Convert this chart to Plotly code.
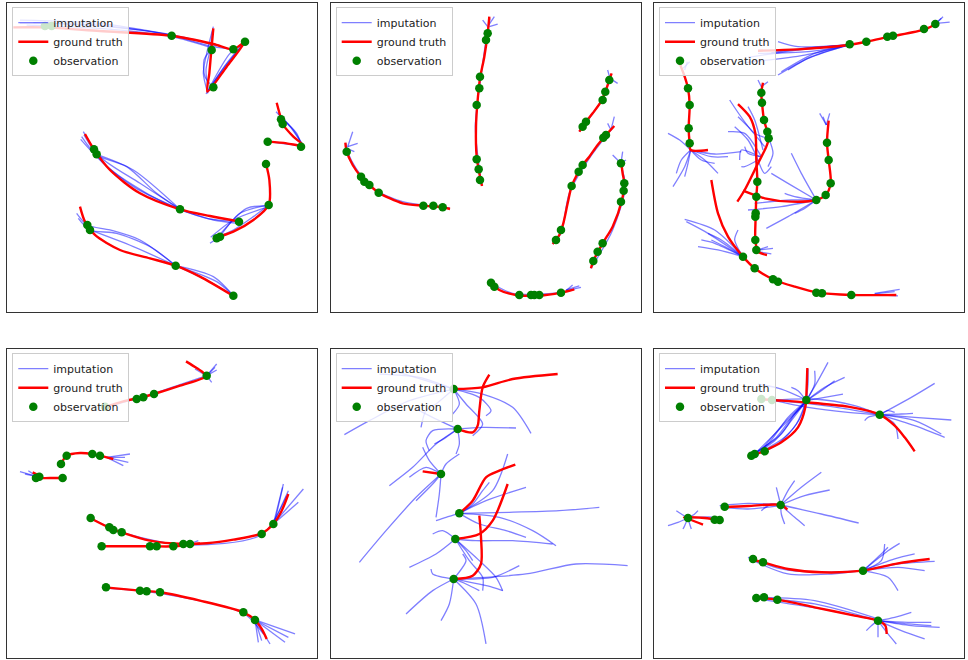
import plotly.graph_objects as go

# ---------------- panel 1 ----------------
P1_TRUTH = [
    [(40, 82), (135, 82), (300, 93), (515, 107), (640, 132), (700, 148), (735, 125), (680, 200), (622, 275), (628, 220), (634, 150), (640, 85)],
    [(830, 308), (840, 345), (850, 375), (880, 410), (910, 437), (860, 430), (805, 425)],
    [(255, 402), (280, 445), (330, 510), (420, 580), (540, 628), (630, 648), (720, 665)],
    [(798, 492), (808, 540), (806, 615), (760, 660), (700, 695), (640, 715)],
    [(240, 620), (255, 665), (285, 705), (360, 750), (450, 775), (527, 797), (600, 830), (700, 888)],
]
P1_OBS = [(135, 78), (155, 78), (515, 107), (635, 150), (700, 148), (735, 125), (640, 262),
          (843, 358), (848, 372), (903, 440), (803, 425), (282, 448), (290, 463), (540, 628),
          (717, 665), (798, 492), (806, 615), (660, 710), (650, 715), (262, 675), (270, 690),
          (527, 797), (700, 887)]
P1_IMPUTE = [
    [(60, 70), (300, 75), (515, 107), (640, 140), (700, 148)],
    [(60, 60), (300, 70), (515, 105)],
    [(80, 75), (300, 85), (515, 110), (640, 145)],
    [(100, 68), (320, 80), (515, 104), (650, 138)],
    [(735, 125), (700, 170), (640, 250), (622, 280)],
    [(730, 130), (690, 160), (630, 260)],
    [(740, 120), (680, 190), (618, 282)],
    [(735, 128), (670, 205), (625, 270)],
    [(640, 262), (615, 230), (612, 180), (632, 150)],
    [(622, 275), (610, 220), (620, 160), (640, 80)],
    [(625, 270), (618, 210), (630, 150), (638, 90)],
    [(828, 335), (870, 380), (905, 430)],
    [(835, 340), (880, 390), (908, 435)],
    [(840, 350), (890, 400), (905, 440)],
    [(805, 425), (860, 432), (905, 437)],
    [(250, 395), (300, 470), (420, 550), (540, 628)],
    [(245, 410), (290, 465), (380, 500), (470, 580), (540, 628)],
    [(290, 463), (400, 510), (540, 628)],
    [(242, 418), (300, 480), (400, 560), (540, 630)],
    [(252, 405), (310, 490), (440, 580), (540, 628)],
    [(540, 628), (620, 655), (720, 665)],
    [(540, 630), (640, 660), (715, 670)],
    [(806, 615), (720, 640), (660, 710)],
    [(806, 618), (740, 625), (650, 715)],
    [(806, 615), (760, 650), (700, 690), (640, 715)],
    [(806, 620), (700, 660), (632, 712)],
    [(660, 710), (630, 730)],
    [(230, 640), (262, 675), (330, 690), (420, 720), (527, 797)],
    [(235, 655), (270, 690), (350, 700), (450, 740), (527, 797)],
    [(270, 690), (400, 740), (527, 797)],
    [(527, 797), (640, 830), (700, 887)],
    [(527, 797), (620, 840), (700, 887)],
    [(527, 797), (650, 845), (700, 887)],
]

# ---------------- panel 2 ----------------
P2_TRUTH = [
    [(58, 428), (62, 455), (80, 495), (105, 530), (130, 555), (158, 578), (230, 610), (292, 617), (350, 622), (372, 627)],
    [(490, 50), (485, 100), (475, 170), (462, 235), (455, 300), (450, 380), (452, 470), (460, 520), (468, 558)],
    [(857, 220), (850, 240), (838, 275), (825, 305), (800, 340), (780, 365), (760, 395)],
    [(865, 378), (840, 405), (815, 435), (790, 470), (770, 495), (750, 530), (737, 558), (725, 610), (712, 670), (700, 705), (680, 732)],
    [(885, 480), (890, 520), (895, 550), (888, 600), (860, 680), (830, 730), (802, 783), (795, 805)],
    [(495, 848), (520, 870), (570, 885), (640, 887), (705, 878), (745, 868)],
]
P2_OBS = [(62, 455), (105, 530), (115, 545), (130, 555), (158, 578), (292, 617), (322, 617), (350, 622),
          (485, 100), (480, 120), (462, 230), (460, 265), (452, 315), (452, 478), (458, 508), (462, 540),
          (850, 240), (838, 275), (830, 300), (780, 365), (770, 380),
          (840, 405), (832, 413), (770, 495), (758, 515), (737, 558), (705, 690), (690, 720),
          (885, 490), (895, 550), (893, 572), (885, 605), (830, 730), (815, 755), (802, 783),
          (495, 848), (505, 860), (580, 885), (615, 885), (625, 885), (640, 885), (705, 878)]
P2_IMPUTE = [
    [(60, 430), (66, 458), (90, 505), (140, 565), (230, 605), (372, 624)],
    [(492, 55), (480, 120), (465, 230), (448, 380), (468, 558)],
    [(855, 225), (830, 295), (760, 395)],
    [(862, 382), (790, 475), (730, 580), (705, 700), (680, 732)],
    [(882, 485), (898, 560), (860, 690), (795, 805)],
    [(497, 850), (560, 880), (700, 878), (745, 868)],
    [(490, 80), (515, 72)], [(485, 80), (470, 60)], [(488, 75), (505, 50)],
    [(65, 440), (80, 395)], [(65, 440), (95, 430)], [(62, 445), (85, 455)],
    [(852, 235), (845, 210)], [(852, 235), (875, 250)],
    [(855, 390), (865, 350)], [(855, 390), (845, 370)],
    [(885, 490), (860, 465)], [(885, 490), (890, 455)], [(885, 490), (900, 480)],
    [(720, 870), (760, 858)], [(720, 872), (740, 855)], [(720, 872), (765, 862)],
]

# ---------------- panel 3 ----------------
P3_TRUTH = [
    [(330, 152), (450, 148), (600, 135), (655, 125), (725, 110), (830, 88), (870, 68)],
    [(95, 190), (110, 230), (120, 265), (125, 315), (122, 385), (125, 430), (128, 450), (180, 450)],
    [(345, 248), (340, 278), (342, 308), (348, 360), (358, 395), (362, 415), (355, 440), (330, 490), (290, 570), (268, 605)],
    [(270, 312), (305, 350), (322, 400), (325, 480), (328, 545), (325, 590), (323, 650), (322, 720), (330, 755), (357, 765)],
    [(542, 362), (537, 428), (542, 480), (548, 550), (533, 585), (505, 600), (430, 605), (350, 595), (285, 572)],
    [(190, 540), (210, 640), (240, 710), (285, 770), (320, 805), (380, 840), (440, 860), (510, 878), (610, 885), (745, 885)],
]
P3_OBS = [(605, 133), (655, 125), (718, 110), (735, 107), (828, 87), (862, 72),
          (120, 265), (125, 315), (122, 385), (125, 430),
          (340, 278), (342, 308), (348, 360), (358, 395), (362, 415),
          (328, 545), (325, 590), (323, 640), (322, 650), (322, 720), (325, 750),
          (537, 428), (542, 480), (548, 550), (533, 585), (505, 600),
          (285, 770), (320, 805), (375, 838), (390, 845), (505, 878), (522, 880), (610, 885)]
P3_IMPUTE = [
    [(600, 135), (450, 140), (390, 125)], [(600, 135), (450, 150), (300, 172)],
    [(600, 135), (470, 165), (290, 188)], [(600, 135), (480, 175), (390, 225)],
    [(600, 135), (490, 170), (420, 210)], [(600, 135), (470, 145), (370, 158)],
    [(600, 135), (500, 160), (400, 215)], [(600, 135), (480, 155), (330, 160)],
    [(865, 70), (905, 66)], [(865, 70), (885, 50)], [(860, 72), (880, 55)],
    [(128, 450), (95, 420), (60, 400)], [(128, 450), (110, 500), (75, 560)],
    [(128, 450), (120, 490), (110, 530)], [(128, 450), (170, 480), (210, 520)],
    [(128, 450), (200, 462), (280, 455)], [(128, 450), (190, 470), (240, 470)],
    [(128, 450), (160, 480), (200, 490)], [(128, 450), (100, 480), (85, 520)],
    [(100, 200), (95, 185)], [(105, 205), (125, 185)], [(110, 210), (118, 185)],
    [(362, 415), (320, 400), (245, 300)], [(340, 470), (290, 400), (240, 395)],
    [(330, 480), (300, 420), (260, 380)], [(330, 480), (350, 520), (370, 500)],
    [(340, 470), (300, 460), (290, 440)], [(330, 480), (290, 500), (280, 500)],
    [(362, 415), (375, 460), (360, 500)], [(350, 440), (300, 380), (270, 350)],
    [(335, 470), (280, 450), (275, 480)], [(345, 450), (320, 360), (300, 320)],
    [(340, 260), (330, 240)], [(340, 260), (360, 245)],
    [(330, 750), (375, 745)], [(330, 755), (370, 762)], [(330, 750), (360, 740)],
    [(505, 600), (400, 620), (300, 630)], [(505, 600), (420, 650), (355, 685)],
    [(505, 600), (420, 550), (370, 520)], [(505, 600), (460, 520), (430, 460)],
    [(505, 600), (440, 590), (410, 580)], [(505, 600), (470, 625), (440, 640)],
    [(505, 600), (430, 600), (320, 610)],
    [(535, 375), (515, 340)], [(535, 375), (545, 340)], [(535, 375), (525, 350)],
    [(285, 770), (200, 690), (110, 658)], [(285, 770), (180, 700), (115, 665)],
    [(285, 770), (210, 750), (150, 740)], [(285, 770), (220, 720), (180, 700)],
    [(285, 770), (260, 720), (270, 690)], [(285, 770), (200, 730), (160, 720)],
    [(285, 770), (230, 740), (190, 720)],
    [(680, 880), (755, 868)], [(680, 882), (740, 875)], [(690, 885), (750, 888)],
]

# ---------------- panel 4 ----------------
P4_TRUTH = [
    [(558, 52), (590, 72), (612, 88), (618, 97), (540, 125), (462, 150), (425, 160), (370, 172), (310, 190)],
    [(190, 402), (150, 402), (110, 402), (120, 397), (98, 385)],
    [(183, 360), (200, 335), (240, 327), (277, 330), (300, 335), (340, 345)],
    [(270, 522), (330, 552), (365, 565), (450, 590), (550, 600), (620, 598), (700, 587), (785, 568), (820, 540), (845, 500), (865, 450)],
    [(305, 607), (450, 607), (520, 607), (560, 603), (600, 598)],
    [(315, 730), (420, 740), (480, 745), (600, 770), (730, 805), (765, 828), (785, 855), (800, 885)],
]
P4_OBS = [(620, 95), (462, 150), (430, 160), (410, 165), (315, 188),
          (118, 398), (108, 402), (188, 402), (183, 360), (200, 335), (277, 330), (300, 335),
          (272, 522), (328, 550), (340, 558), (365, 565), (550, 600), (570, 600), (785, 570), (820, 540),
          (305, 607), (450, 607), (470, 607), (520, 607),
          (318, 730), (420, 740), (440, 742), (480, 745), (730, 805), (765, 828)]
P4_IMPUTE = [
    [(620, 95), (540, 122), (462, 148), (310, 192)],
    [(272, 522), (360, 563), (550, 603), (785, 572), (860, 455)],
    [(318, 732), (480, 748), (730, 808), (790, 870)],
    [(620, 95), (650, 60)], [(620, 95), (650, 78)], [(620, 95), (635, 115)],
    [(620, 95), (645, 70)], [(610, 90), (585, 75)],
    [(112, 398), (60, 383)], [(112, 398), (75, 390)], [(112, 398), (85, 380)],
    [(320, 340), (390, 330)], [(320, 340), (385, 355)], [(320, 340), (370, 365)], [(320, 340), (375, 340)],
    [(820, 540), (850, 420)], [(820, 540), (910, 435)], [(820, 540), (895, 475)],
    [(820, 540), (865, 440)], [(825, 530), (848, 430)],
    [(560, 603), (595, 590)],
    [(765, 828), (775, 895)], [(765, 828), (810, 900)], [(765, 828), (855, 895)],
    [(765, 828), (885, 870)], [(765, 828), (865, 880)], [(765, 828), (785, 890)],
]

# ---------------- panel 5 ----------------
P5_TRUTH = [
    [(383, 135), (470, 130), (560, 105), (695, 90)],
    [(395, 255), (440, 265), (455, 245), (460, 200), (470, 130), (490, 92)],
    [(290, 382), (345, 390)],
    [(400, 508), (440, 470), (480, 400), (520, 380), (568, 362)],
    [(388, 585), (460, 570), (500, 530), (545, 420)],
    [(383, 705), (440, 695), (465, 660), (465, 580), (460, 515)],
]
P5_OBS = [(383, 135), (395, 255), (345, 390), (400, 508), (388, 585), (383, 705)]
P5_IMPUTE = [
    [(383, 135), (250, 170), (130, 230), (55, 272)],
    [(383, 135), (300, 110), (200, 80)],
    [(383, 135), (470, 150), (560, 190), (615, 268)],
    [(383, 135), (330, 180), (300, 200), (285, 250)],
    [(383, 135), (400, 180), (380, 210)],
    [(383, 135), (460, 160), (495, 200), (480, 215)],
    [(383, 135), (420, 180), (470, 240), (440, 275)],
    [(383, 135), (280, 100), (160, 90)],
    [(395, 255), (330, 300), (260, 370), (190, 425)],
    [(395, 255), (340, 230), (290, 205), (270, 195)],
    [(395, 255), (470, 250), (570, 252)],
    [(395, 255), (360, 280), (325, 300)],
    [(395, 255), (400, 300), (390, 330)],
    [(395, 255), (320, 260), (300, 290), (310, 320)],
    [(345, 390), (270, 460), (180, 560), (100, 655)],
    [(345, 390), (300, 370), (250, 400)],
    [(345, 390), (310, 350), (290, 310)],
    [(345, 390), (360, 360), (400, 330)],
    [(345, 390), (340, 450), (330, 520)],
    [(345, 390), (320, 420), (270, 470)],
    [(400, 508), (550, 505), (700, 500), (820, 490)],
    [(400, 508), (520, 520), (620, 560), (690, 605)],
    [(400, 508), (500, 440), (545, 330)],
    [(400, 508), (480, 470), (600, 430)],
    [(400, 508), (360, 520), (330, 530)],
    [(400, 508), (460, 540), (540, 560), (600, 580)],
    [(400, 508), (440, 480), (470, 440), (490, 415)],
    [(388, 585), (330, 630), (250, 670)],
    [(388, 585), (450, 590), (560, 590), (680, 600)],
    [(388, 585), (430, 650), (470, 700), (470, 740)],
    [(388, 585), (460, 650), (510, 700), (530, 740)],
    [(388, 585), (350, 560), (320, 570)],
    [(388, 585), (420, 620), (440, 650)],
    [(383, 705), (600, 690), (750, 660), (905, 665)],
    [(383, 705), (320, 740), (240, 810)],
    [(383, 705), (450, 780), (480, 900)],
    [(383, 705), (370, 780), (345, 830)],
    [(383, 705), (420, 720), (460, 740)],
    [(383, 705), (320, 690), (315, 675)],
    [(383, 705), (500, 700), (580, 665)],
    [(383, 705), (420, 650), (410, 630)],
    [(383, 705), (500, 730), (530, 740)],
]

# ---------------- panel 6 ----------------
P6_TRUTH = [
    [(330, 165), (372, 168), (475, 175), (600, 188), (695, 212), (740, 245), (770, 280), (800, 322)],
    [(478, 72), (476, 130), (472, 190), (450, 250), (400, 295), (350, 320), (300, 340)],
    [(225, 490), (300, 486), (400, 483), (418, 497)],
    [(215, 528), (170, 522), (108, 520), (130, 528), (165, 542)],
    [(305, 645), (345, 655), (420, 675), (520, 685), (645, 680), (750, 658), (845, 645)],
    [(320, 762), (388, 767), (500, 790), (620, 815), (690, 830), (712, 845), (716, 870)],
]
P6_OBS = [(340, 165), (372, 168), (475, 168), (695, 212), (350, 322), (320, 330), (310, 335),
          (230, 488), (398, 483), (120, 522), (200, 527), (215, 528),
          (315, 645), (345, 655), (645, 680), (325, 762), (348, 760), (388, 767), (690, 830)]
P6_IMPUTE = [
    [(475, 170), (480, 120), (480, 75)], [(475, 170), (510, 110), (540, 55)],
    [(475, 170), (530, 130), (590, 100)], [(475, 170), (530, 160), (585, 150)],
    [(475, 170), (450, 140), (430, 130)], [(475, 170), (500, 120), (500, 80)],
    [(475, 170), (520, 140), (560, 110)], [(470, 165), (400, 135), (330, 120)],
    [(475, 170), (430, 230), (380, 290), (320, 330)], [(475, 170), (420, 220), (360, 300), (310, 335)],
    [(475, 170), (440, 210), (400, 270), (300, 340)], [(470, 180), (400, 250), (320, 330)],
    [(475, 170), (445, 240), (390, 300), (350, 322)], [(475, 170), (455, 225), (410, 280), (330, 328)],
    [(475, 170), (435, 215), (385, 280), (305, 338)], [(472, 175), (410, 235), (340, 318)],
    [(372, 168), (475, 178), (600, 195), (695, 212)], [(372, 168), (500, 165), (620, 185), (695, 212)],
    [(372, 168), (480, 190), (600, 205), (695, 212)],
    [(695, 212), (790, 160), (860, 118)], [(695, 212), (800, 220), (910, 228)],
    [(695, 212), (800, 245), (890, 280)], [(695, 212), (740, 240), (750, 285)],
    [(695, 212), (760, 210), (795, 208)], [(695, 212), (800, 230), (880, 270)],
    [(695, 212), (720, 200), (740, 205)], [(695, 212), (660, 220), (650, 230)],
    [(398, 483), (460, 430), (520, 385)], [(398, 483), (470, 455), (545, 438)],
    [(398, 483), (520, 510), (632, 537)], [(398, 483), (440, 520), (470, 545)],
    [(398, 483), (420, 440), (440, 410)], [(398, 483), (390, 450), (385, 430)],
    [(398, 483), (400, 510), (410, 540)], [(398, 483), (370, 480), (340, 500)],
    [(215, 485), (300, 478), (398, 483)], [(225, 490), (300, 495), (398, 485)],
    [(120, 522), (90, 535), (60, 545)], [(120, 522), (100, 510), (85, 500)],
    [(120, 522), (125, 540), (130, 555)], [(120, 522), (140, 510), (150, 500)],
    [(120, 522), (110, 545), (105, 555)], [(120, 522), (200, 520), (225, 530)],
    [(300, 640), (400, 675), (500, 685), (645, 680)], [(305, 645), (420, 690), (550, 690), (645, 680)],
    [(645, 680), (700, 630), (720, 610)], [(645, 680), (720, 620), (755, 598)],
    [(645, 680), (740, 645), (800, 630)], [(645, 680), (750, 660), (860, 652)],
    [(645, 680), (720, 700), (750, 740)], [(645, 680), (750, 670), (830, 680)],
    [(645, 680), (700, 650), (710, 600)],
    [(320, 762), (500, 780), (690, 830)], [(320, 760), (500, 770), (690, 825)],
    [(330, 765), (520, 795), (690, 830)],
    [(690, 830), (740, 820), (790, 805)], [(690, 830), (780, 835), (850, 835)],
    [(690, 830), (790, 845), (875, 850)], [(690, 830), (760, 860), (830, 885)],
    [(690, 830), (720, 870), (745, 900)], [(690, 830), (670, 845), (655, 860)],
    [(690, 830), (690, 860), (690, 880)], [(690, 830), (780, 840), (850, 845)],
]

PANELS = [
    (P1_TRUTH, P1_OBS, P1_IMPUTE),
    (P2_TRUTH, P2_OBS, P2_IMPUTE),
    (P3_TRUTH, P3_OBS, P3_IMPUTE),
    (P4_TRUTH, P4_OBS, P4_IMPUTE),
    (P5_TRUTH, P5_OBS, P5_IMPUTE),
    (P6_TRUTH, P6_OBS, P6_IMPUTE),
]

# panel frames in pixels: (left, right, top, bottom), and data ranges
W, H = 968, 660
FRAMES = [
    (7.3, 316.7, 2.7, 312.3), (330.7, 641.3, 2.7, 312.3), (654.0, 964.0, 2.7, 312.3),
    (7.3, 316.7, 348.7, 658.3), (330.7, 641.3, 348.7, 658.3), (654.0, 964.0, 348.7, 658.3),
]
XRANGES = [(22, 950), (14, 946), (18, 948), (22, 950), (14, 946), (18, 948)]
YRANGES = [(937, 8), (937, 8), (937, 8), (943, 14), (943, 14), (943, 14)]

BLUE = "rgba(0,0,255,0.5)"
RED = "#ff0000"
GREEN = "#008000"


def xy(pts):
    return [p[0] for p in pts], [p[1] for p in pts]


fig = go.Figure()
layout = dict(width=W, height=H, margin=dict(l=0, r=0, t=0, b=0),
              paper_bgcolor="white", plot_bgcolor="white", showlegend=True)

for i, (truth, obs, impute) in enumerate(PANELS):
    n = i + 1
    suffix = "" if n == 1 else str(n)
    xa, ya = "x" + suffix, "y" + suffix
    leg = "legend" + suffix
    for k, path in enumerate(impute):
        x, y = xy(path)
        fig.add_trace(go.Scatter(
            x=x, y=y, mode="lines", xaxis=xa, yaxis=ya, legend=leg,
            name="imputation", showlegend=(k == 0), legendgroup=f"imp{n}",
            line=dict(color=BLUE, width=1.3, shape="spline", smoothing=0.8),
            hoverinfo="skip"))
    for k, path in enumerate(truth):
        x, y = xy(path)
        fig.add_trace(go.Scatter(
            x=x, y=y, mode="lines", xaxis=xa, yaxis=ya, legend=leg,
            name="ground truth", showlegend=(k == 0), legendgroup=f"gt{n}",
            line=dict(color=RED, width=2.4, shape="spline", smoothing=0.8),
            hoverinfo="skip"))
    x, y = xy(obs)
    fig.add_trace(go.Scatter(
        x=x, y=y, mode="markers", xaxis=xa, yaxis=ya, legend=leg,
        name="observation", showlegend=True, legendgroup=f"obs{n}",
        marker=dict(color=GREEN, size=8.5, line=dict(width=0)),
        hoverinfo="skip"))

    left, right, top, bottom = FRAMES[i]
    axis_style = dict(showgrid=False, zeroline=False, showticklabels=False, ticks="",
                      showline=True, linecolor="#333333", linewidth=1.2, mirror=True)
    layout["xaxis" + suffix] = dict(domain=[left / W, right / W], range=list(XRANGES[i]),
                                    anchor=ya, **axis_style)
    layout["yaxis" + suffix] = dict(domain=[1 - bottom / H, 1 - top / H], range=list(YRANGES[i]),
                                    anchor=xa, **axis_style)
    layout[leg] = dict(x=(left + 5.0) / W, y=1 - (top + 4.5) / H, xanchor="left", yanchor="top",
                       bgcolor="rgba(255,255,255,0.8)", bordercolor="#cccccc", borderwidth=1,
                       font=dict(family="DejaVu Sans", size=11, color="#222222"),
                       tracegroupgap=0, itemwidth=30)

fig.update_layout(**layout)
fig.write_html("out.html")
